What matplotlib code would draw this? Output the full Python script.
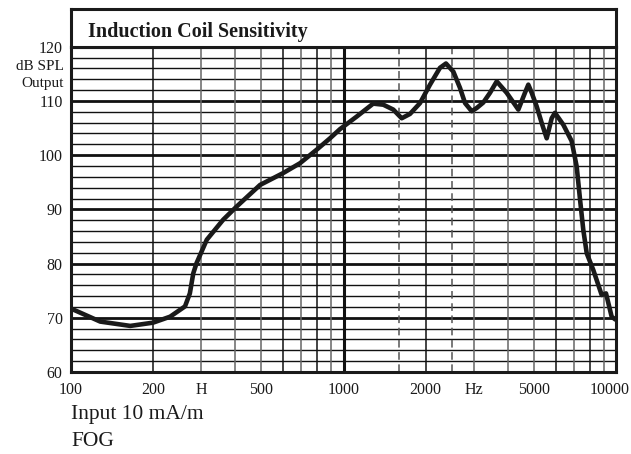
import matplotlib.pyplot as plt
import matplotlib.transforms as mtransforms

plt.rcParams['font.family'] = ['Liberation Serif', 'DejaVu Serif']

# curve (Hz, dB SPL)
freq = [100, 128, 165, 200, 231, 262, 273, 281, 289, 315, 362, 405, 494, 601,
        692, 797, 892, 971, 1117, 1285, 1400, 1523, 1635, 1754, 1909, 2077,
        2259, 2377, 2530, 2676, 2793, 2955, 3083, 3258, 3449, 3650, 3970,
        4381, 4634, 4767, 4905, 5115, 5340, 5568, 5808, 5970, 6408, 6873,
        7173, 7380, 7586, 7809, 8256, 8862, 9190, 9640, 10000]
spl = [71.7, 69.3, 68.5, 69.1, 70.2, 72.1, 74.5, 78.2, 80.1, 84.4, 88.1, 90.5,
       94.5, 96.7, 98.5, 101.0, 103.1, 104.8, 107.1, 109.5, 109.3, 108.4,
       106.8, 107.6, 109.6, 113.0, 116.1, 116.9, 115.4, 112.4, 109.6, 108.1,
       108.7, 109.7, 111.5, 113.6, 111.5, 108.4, 111.5, 113.0, 111.5, 109.0,
       105.9, 103.1, 106.8, 107.8, 105.6, 102.6, 97.9, 91.8, 86.2, 81.9,
       78.8, 74.2, 74.5, 70.2, 69.6]

xticks = [100, 200, 300, 500, 1000, 2000, 3000, 5000, 10000]
xlabels = ['100', '200', 'H', '500', '1000', '2000', 'Hz', '5000', '10000']
yticks = [60, 70, 80, 90, 100, 110, 120]
dashed = [1600, 2500]

ink = '#1a1a1a'

fig = plt.figure(figsize=(6.31, 4.54), dpi=100)
ax = fig.add_axes([71/631, 1 - 372/454, 545/631, 325.3/454])
ax.set_xscale('log')
ax.set_xlim(100, 10000)
ax.set_ylim(60, 120)

# horizontal grid every 2 dB, heavier at the tens
for v in range(62, 120, 2):
    heavy = v % 10 == 0
    ax.axhline(v, color='#111111', lw=2.0 if heavy else 1.0, zorder=1)
ax.axhline(120, color='#111111', lw=1.5, zorder=1)

# vertical grid
for dec in [100, 1000]:
    for m in range(2, 10):
        f = dec * m
        if f in dashed:
            continue
        c = '#111111' if m in (2, 6, 8) else '#666666'
        ax.axvline(f, color=c, lw=1.1, zorder=1)
ax.axvline(1000, color='#111111', lw=2.2, zorder=1)
for f in dashed:
    ax.axvline(f, color='#555555', lw=1.1, ls=(0, (5, 3)), zorder=1)

ax.plot(freq, spl, color=ink, lw=3.3, solid_joinstyle='round',
        solid_capstyle='butt', zorder=3)

for s in ax.spines.values():
    s.set_linewidth(2.2)
    s.set_color(ink)

ax.set_xticks(xticks)
ax.set_xticklabels(xlabels)
ax.xaxis.set_minor_locator(plt.NullLocator())
ax.set_yticks(yticks)
ax.tick_params(length=0, labelsize=11.5, colors=ink)
ax.tick_params(axis='x', pad=7)
ax.tick_params(axis='y', pad=6)

# nudge the last x label so it stays inside the figure
last = ax.get_xticklabels()[-1]
last.set_transform(last.get_transform() +
                   mtransforms.ScaledTranslation(-6/100, 0, fig.dpi_scale_trans))

# y axis unit labels
ax.text(-0.013, 116.3, 'dB SPL', transform=ax.get_yaxis_transform(),
        ha='right', va='center', fontsize=11, color=ink)
ax.text(-0.013, 113.3, 'Output', transform=ax.get_yaxis_transform(),
        ha='right', va='center', fontsize=11, color=ink)

# title box above the grid
tax = fig.add_axes([71/631, 1 - 46.7/454, 545/631, 38/454])
tax.set_xticks([])
tax.set_yticks([])
for s in tax.spines.values():
    s.set_linewidth(2.2)
    s.set_color(ink)
tax.text(0.031, 0.38, 'Induction Coil Sensitivity', transform=tax.transAxes,
         ha='left', va='center', fontsize=14.5, fontweight='bold', color=ink)

fig.text(71/631, 1 - 415/454, 'Input 10 mA/m', ha='left', va='center',
         fontsize=15.5, color=ink)
fig.text(71/631, 1 - 442/454, 'FOG', ha='left', va='center',
         fontsize=15.5, color=ink)

fig.savefig('out.png', dpi=100)
